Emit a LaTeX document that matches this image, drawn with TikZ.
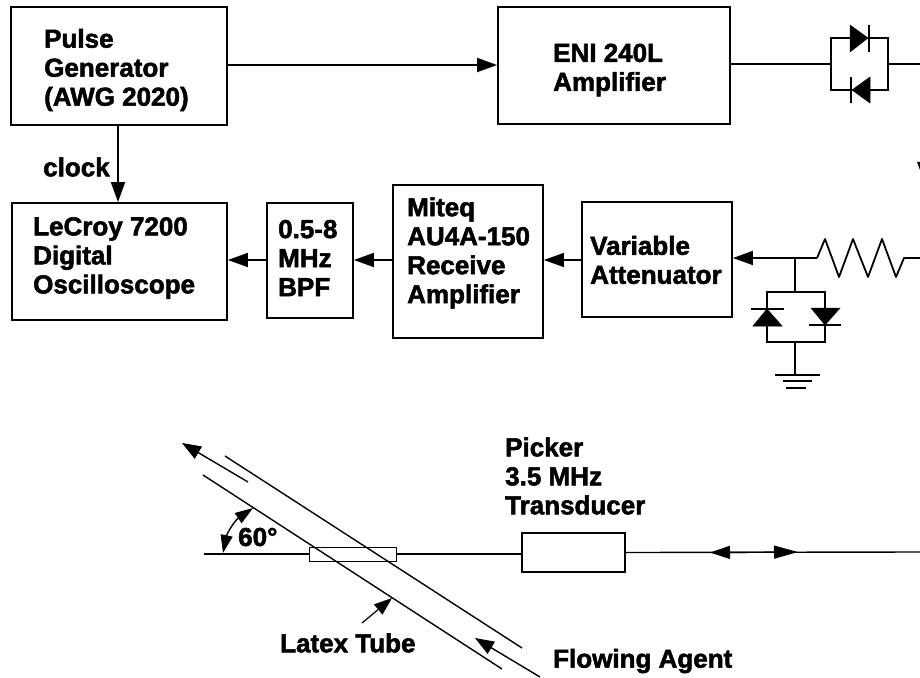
\documentclass[tikz,border=0pt]{standalone}
\usepackage{fontspec}
\setmainfont{Liberation Sans}[BoldFeatures={FakeBold=2}]
\usetikzlibrary{arrows.meta,calc}
\tikzset{
  x=1pt,y=-1pt,
  wire/.style={line width=1.8pt,line join=miter},
  thin wire/.style={line width=1.4pt},
  sig/.style={wire,-{Triangle[length=20pt,width=14pt]}},
  both/.style={line width=1.4pt,{Triangle[length=20pt,width=13pt]}-{Triangle[length=24pt,width=13pt]}},
  block/.style={draw,line width=1.8pt,fill=white,inner sep=0pt},
  lbl/.style={anchor=west,align=left,inner sep=0pt,font=\fontsize{26}{29}\selectfont\bfseries},
  dfill/.style={fill=black,draw=black,line width=.5pt},
}
\begin{document}
\begin{tikzpicture}
\useasboundingbox (0,0) rectangle (920,677);
% blocks
\node[block,minimum width=216pt,minimum height=118pt] (pulse) at (119,66) {};
\node[block,minimum width=232pt,minimum height=117pt] (eni) at (614,65.5) {};
\node[block,minimum width=215pt,minimum height=117pt] (lecroy) at (119.5,261.5) {};
\node[block,minimum width=86pt,minimum height=115pt] (bpf) at (310,260.5) {};
\node[block,minimum width=150pt,minimum height=153pt] (miteq) at (468,261.5) {};
\node[block,minimum width=150pt,minimum height=115pt] (atten) at (657,259.5) {};
\node[block,line width=1.4pt,minimum width=103pt,minimum height=39pt] (trans) at (573.5,552.5) {};
\node[draw,line width=.9pt,minimum width=87pt,minimum height=14pt,inner sep=0pt] (cell) at (352.5,554) {};
% labels
\node[lbl] (tpulse) at (44,70) {Pulse\\Generator\\(AWG 2020)};
\node[lbl] (teni) at (553,70) {ENI 240L\\Amplifier};
\node[lbl] (tclock) at (43,167) {clock};
\node[lbl] (tlecroy) at (33,258) {LeCroy 7200\\Digital\\Oscilloscope};
\node[lbl] (tbpf) at (278,258) {0.5-8\\MHz\\BPF};
\node[lbl] (tmiteq) at (407,253) {Miteq\\AU4A-150\\Receive\\Amplifier};
\node[lbl] (tatten) at (590,260) {Variable\\Attenuator};
\node[lbl] (tv) at (917,171) {V};
\node[lbl] (tpicker) at (505,476) {Picker\\3.5 MHz\\Transducer};
\node[lbl] (tsixty) at (238,537) {60°};
\node[lbl] (ttube) at (280,643) {Latex Tube};
\node[lbl] (tagent) at (553,661) {Flowing Agent};
% top chain
\draw[sig] (pulse.east |- 0,65) -- (eni.west |- 0,65);
\draw[sig] (pulse.south -| 118,0) -- (lecroy.north -| 118,0);
\coordinate (dl) at (831,64); \coordinate (dr) at (888,64);
\coordinate (outr) at (920,64);
\draw[wire] (eni.east |- dl) -- (dl) (dr) -- (outr);
\draw[wire] (dl) |- (850,38) (869,38) -| (dr) |- (870,90) (851,90) -| (dl);
\draw[dfill] (850,25) -- (868,38) -- (850,52) -- cycle;
\draw[wire] (869,25) -- (869,52);
\draw[dfill] (870,77) -- (852,90) -- (870,103) -- cycle;
\draw[wire] (851,77) -- (851,103);
% receive chain
\coordinate (rj) at (795,258);
\coordinate (rs) at (817,258);
\coordinate (re) at (920,258);
\draw[sig] (rs) -- (atten.east |- rj);
\draw[sig] (atten.west |- 0,260) -- (miteq.east |- 0,260);
\draw[sig] (miteq.west |- 0,260) -- (bpf.east |- 0,260);
\draw[sig] (bpf.west |- 0,260) -- (lecroy.east |- 0,260);
\draw[wire,line join=round] (rs) -- (825,239) -- (839,277) -- (853,239) -- (868,277) -- (882,239) -- (896,277) -- (904,258) -- (re);
% clamp diodes
\coordinate (gt) at (795,292); \coordinate (gb) at (795,342); \coordinate (gnd) at (795,375);
\draw[thin wire] (rj) -- (gt) (gb) -- (gnd);
\draw[wire] (767,292) rectangle (825,342);
\draw[dfill] (753,326) -- (767,309) -- (782,326) -- cycle;
\draw[wire] (751,309) -- (784,309);
\draw[dfill] (811,308) -- (825,325) -- (840,308) -- cycle;
\draw[wire] (809,325) -- (841,325);
\draw[wire] (775,375) -- (820,375) (783,381) -- (812,381) (786,388) -- (806,388);
% lower diagram
\coordinate (axis) at (204,554);
\draw[thin wire] (axis) -- (cell.west) (cell.east) -- (trans.west |- 0,554);
\coordinate (cableend) at (920,552);
\draw[thin wire] (trans.east) -- (cableend);
\coordinate (pa) at (710,552.5); \coordinate (pb) at (798,552);
\draw[both] (pa) -- (pb);
\draw[line width=1.4pt] (225,456) -- (522,648);
\draw[line width=1.4pt] (203,475) -- (502,669);
\draw[line width=1.4pt,-{Triangle[length=19pt,width=14pt]}] (248,482) -- (182,443);
\draw[line width=1.4pt,-{Triangle[length=19pt,width=14pt]}] (540,677) -- (475,638);
\draw[line width=1.4pt,{Triangle[length=18pt,width=12pt]}-{Triangle[length=18pt,width=12pt]}] (223,553) to[bend left=22] (253,508);
\draw[line width=1.2pt,-{Triangle[length=18pt,width=13pt]}] (362,623) -- (392,598);
\end{tikzpicture}
\end{document}
